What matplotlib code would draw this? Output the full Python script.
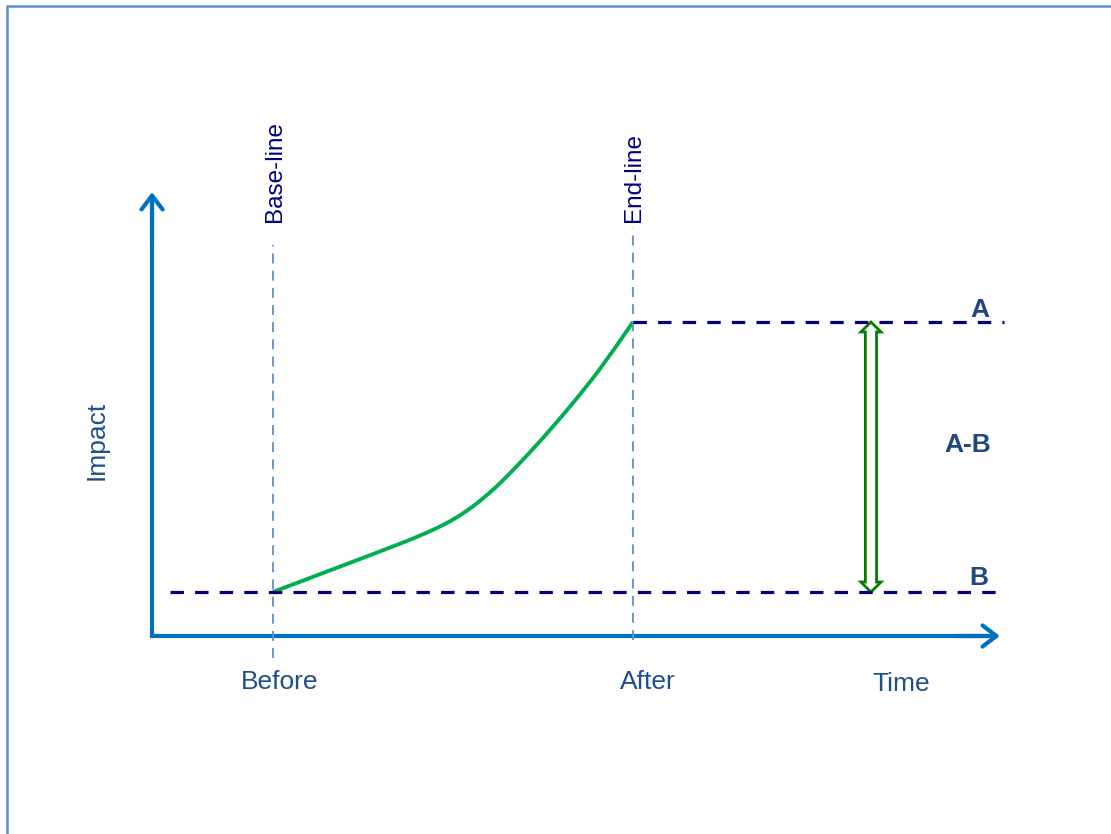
import numpy as np
import matplotlib
matplotlib.use('Agg')
import matplotlib.pyplot as plt
from matplotlib.patches import FancyArrowPatch, Polygon, PathPatch
from matplotlib.path import Path

plt.rcParams['font.family'] = ['Liberation Sans', 'DejaVu Sans']

# %% data (time: Before=0, After=1 ; impact: B=0, A=1)
before, after = 0.0, 1.0
level_b, level_a = 0.0, 1.0
curve_x = [0.0, 0.158, 0.353, 0.444, 0.506, 0.561, 0.617, 0.672, 0.742, 0.825, 0.908, 1.0]
curve_y = [0.0, 0.080, 0.179, 0.230, 0.273, 0.323, 0.386, 0.459, 0.559, 0.687, 0.826, 1.0]
gap_x = 1.661
x_labels = ['Before', 'After']

# %% colours
axis_blue = '#0070c0'
navy = '#000080'
text_blue = '#1f4e8c'
bold_blue = '#1f497d'
guide_blue = '#5b8fd0'
green = '#00b050'
dark_green = '#008000'

fig = plt.figure(figsize=(11.11, 8.34), dpi=100)
ax = fig.add_axes([0, 0, 1, 1])
ax.set_xlim(-0.7583, 2.3278)
ax.set_ylim(-0.8963, 2.1926)
ax.axis('off')

# frame border (top and left only visible)
ax.plot([0.0063, 0.0063, 1.0], [0.0, 0.9928, 0.9928], color='#5b8fd0', lw=1.8,
        transform=ax.transAxes, clip_on=False)

# %% axes arrows
x0, y0 = -0.336, -0.163
style = '->,head_length=0.5,head_width=0.38'
ax.plot([x0, x0, 2.0], [1.46, y0, y0], color=axis_blue, lw=3, solid_joinstyle='miter')
ax.add_patch(FancyArrowPatch((x0, 1.3), (x0, 1.481), arrowstyle=style,
                             mutation_scale=20, color=axis_blue, lw=3, shrinkA=0, shrinkB=0))
ax.add_patch(FancyArrowPatch((1.9, y0), (2.019, y0), arrowstyle=style,
                             mutation_scale=20, color=axis_blue, lw=3, shrinkA=0, shrinkB=0))

# %% vertical guide lines
ax.plot([before, before], [-0.244, 1.285], color=guide_blue, lw=1.3, ls=(0, (5.5, 4)))
ax.plot([after, after], [-0.178, 1.348], color=guide_blue, lw=1.3, ls=(0, (5.5, 4)))
ax.text(before + 0.006, 1.370, 'Base-line', rotation=90, ha='center', va='bottom',
        fontsize=17.5, color=navy)
ax.text(after + 0.004, 1.370, 'End-line', rotation=90, ha='center', va='bottom',
        fontsize=17.5, color=navy)

# %% horizontal levels
ax.plot([-0.286, 2.03], [level_b, level_b], color=navy, lw=2.3, ls=(0, (4.2, 3.5)))
ax.plot([after, 2.03], [level_a, level_a], color=navy, lw=2.3, ls=(0, (4.2, 3.5)))

# %% impact curve, drawn smooth through the read points (Catmull-Rom as Bezier)
pts = np.column_stack([curve_x, curve_y])
ext = np.vstack([2 * pts[0] - pts[1], pts, 2 * pts[-1] - pts[-2]])
verts = [tuple(pts[0])]
codes = [Path.MOVETO]
for i in range(1, len(ext) - 2):
    p0, p1, p2, p3 = ext[i - 1], ext[i], ext[i + 1], ext[i + 2]
    verts += [tuple(p1 + (p2 - p0) / 6), tuple(p2 - (p3 - p1) / 6), tuple(p2)]
    codes += [Path.CURVE4] * 3
ax.add_patch(PathPatch(Path(verts, codes), facecolor='none', edgecolor=green,
                       lw=2.8, capstyle='butt'))

# %% hollow double arrow between B and A
hw, hh, hl = 0.0155, 0.028, 0.037
arrow = [(gap_x, level_a), (gap_x + hh, level_a - hl), (gap_x + hw, level_a - hl),
         (gap_x + hw, level_b + hl), (gap_x + hh, level_b + hl), (gap_x, level_b),
         (gap_x - hh, level_b + hl), (gap_x - hw, level_b + hl), (gap_x - hw, level_a - hl),
         (gap_x - hh, level_a - hl)]
ax.add_patch(Polygon(arrow, closed=True, facecolor='white', edgecolor=dark_green, lw=2))

# %% labels
ax.text(-0.489, 0.563, 'Impact', rotation=90, ha='center', va='center',
        fontsize=19, color=text_blue)
ax.text(before + 0.019, -0.333, x_labels[0], ha='center', va='center', fontsize=19, color=text_blue)
ax.text(after + 0.042, -0.333, x_labels[1], ha='center', va='center', fontsize=19, color=text_blue)
ax.text(1.744, -0.341, 'Time', ha='center', va='center', fontsize=19, color=text_blue)
ax.text(1.964, level_a + 0.045, 'A', ha='center', va='center', fontsize=19,
        fontweight='bold', color=bold_blue)
ax.text(1.961, level_b + 0.050, 'B', ha='center', va='center', fontsize=19,
        fontweight='bold', color=bold_blue)
ax.text(1.931, 0.544, 'A-B', ha='center', va='center', fontsize=19,
        fontweight='bold', color=bold_blue)

plt.savefig('out.png', dpi=100)
